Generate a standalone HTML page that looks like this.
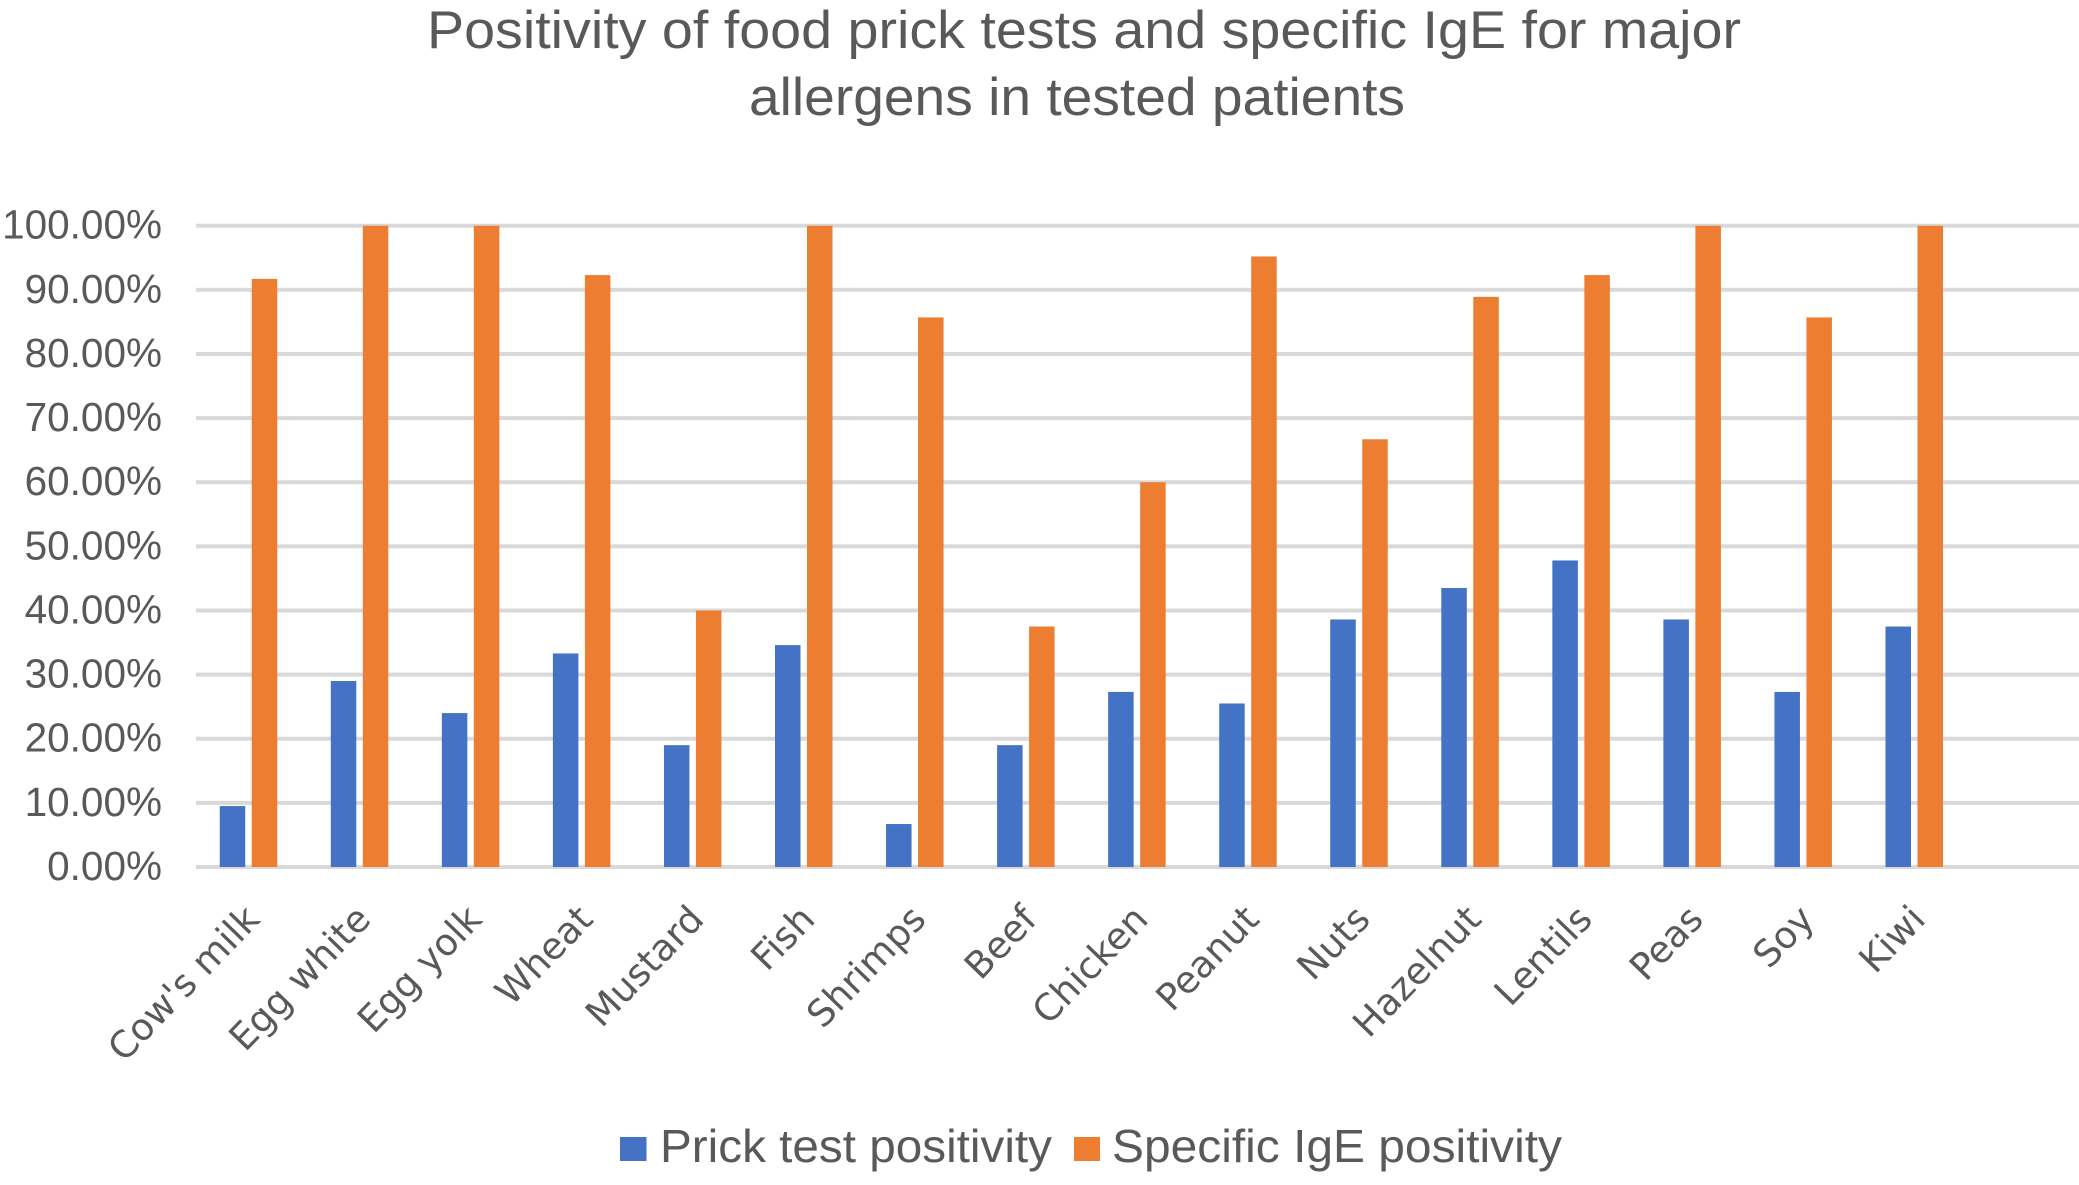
<!DOCTYPE html>
<html lang="en">
<head>
<meta charset="utf-8">
<title>Positivity of food prick tests and specific IgE</title>
<style>
html,body{margin:0;padding:0;background:#fff;width:2079px;height:1185px;overflow:hidden}
svg{display:block}
text{fill:#595959;font-family:"Liberation Sans",Arial,sans-serif}
.cat{font-family:"DejaVu Sans",sans-serif;font-size:37px}
</style>
</head>
<body>
<svg id="chart" xmlns="http://www.w3.org/2000/svg" width="2079" height="1185" viewBox="0 0 2079 1185">
  <g>
    <text x="427" y="48" font-size="53" textLength="1314" lengthAdjust="spacingAndGlyphs">Positivity of food prick tests and specific IgE for major</text>
    <text x="749" y="115" font-size="53" textLength="656" lengthAdjust="spacingAndGlyphs">allergens in tested patients</text>
  </g>
  <g id="grid"></g>
  <g id="yticks"></g>
  <g id="bars"></g>
  <g id="xticks"></g>
  <g>
    <rect x="620" y="1137" width="26.5" height="24" fill="#4472C4"></rect>
    <text x="660" y="1162" font-size="46" textLength="392" lengthAdjust="spacingAndGlyphs">Prick test positivity</text>
    <rect x="1074" y="1137" width="26" height="24" fill="#ED7D31"></rect>
    <text x="1112" y="1162" font-size="46" textLength="450" lengthAdjust="spacingAndGlyphs">Specific IgE positivity</text>
  </g>
</svg>
<script>
const categories = ["Cow's milk","Egg white","Egg yolk","Wheat","Mustard","Fish","Shrimps","Beef","Chicken","Peanut","Nuts","Hazelnut","Lentils","Peas","Soy","Kiwi"];
const prickValues = [9.5,29,24,33.3,19,34.6,6.7,19,27.3,25.5,38.6,43.5,47.8,38.6,27.3,37.5];
const igeValues = [91.7,100,100,92.3,40,100,85.7,37.5,60,95.2,66.7,88.9,92.3,100,85.7,100];
const yTicks = [0,10,20,30,40,50,60,70,80,90,100];

const NS = 'http://www.w3.org/2000/svg';
const plotLeft = 196, plotRight = 2079, y0 = 867, y100 = 225.7;
const firstCenter = 248.5, pitch = 111.05, barW = 25.5, barGap = 6.5;
const yScale = v => y0 - (v / 100) * (y0 - y100);
const xCenter = i => firstCenter + i * pitch;

function make(tag, attrs, parent) {
  const el = document.createElementNS(NS, tag);
  for (const k in attrs) el.setAttribute(k, attrs[k]);
  parent.appendChild(el);
  return el;
}

const gridG = document.getElementById('grid');
const yG = document.getElementById('yticks');
yTicks.forEach(t => {
  const line = make('rect', {x: plotLeft, y: yScale(t) - 2, width: plotRight - plotLeft, height: 4, fill: '#D9D9D9'}, gridG);
  
  
  const label = make('text', {x: 162, y: yScale(t) + 13, 'text-anchor': 'end', 'font-size': 40.5}, yG);
  
  
  label.textContent = t.toFixed(2) + '%';
});

const barsG = document.getElementById('bars');
categories.forEach((c, i) => {
  const slug = c.toLowerCase().replace(/[^a-z]+/g, '-');
  const cx = xCenter(i);
  const b1 = make('rect', {x: cx - barGap / 2 - barW, y: yScale(prickValues[i]), width: barW, height: y0 - yScale(prickValues[i]), fill: '#4472C4'}, barsG);
  
  
  const b2 = make('rect', {x: cx + barGap / 2, y: yScale(igeValues[i]), width: barW, height: y0 - yScale(igeValues[i]), fill: '#ED7D31'}, barsG);
  
  
});

const xG = document.getElementById('xticks');
categories.forEach((c, i) => {
  const slug = c.toLowerCase().replace(/[^a-z]+/g, '-');
  const lx = xCenter(i) + 13, ly = 921;
  const t = make('text', {class: 'cat', x: 0, y: 0, 'text-anchor': 'end', transform: 'translate(' + lx + ' ' + ly + ') rotate(-46)'}, xG);
  
  
  t.textContent = c;
});
</script>
</body>
</html>
